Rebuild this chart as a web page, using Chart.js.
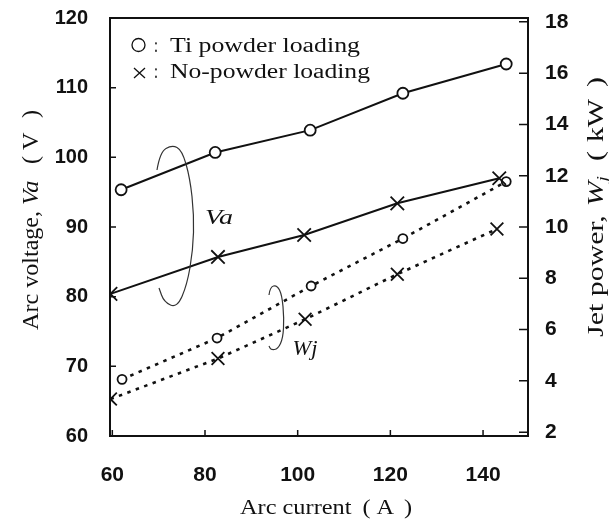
<!DOCTYPE html>
<html>
<head>
<meta charset="utf-8">
<script src="https://cdn.jsdelivr.net/npm/chart.js@4.4.0/dist/chart.umd.min.js"></script>
<style>
  html, body { margin: 0; padding: 0; background: #fff; }
  #grafico { display: block; }
</style>
</head>
<body>
<canvas id="grafico" width="609" height="527"></canvas>
<script>
// corrente do arco (A) e tensão (V) / potência do jato (kW)
const correnteTiVa = [61.9, 82.2, 102.7, 122.7, 145.0];
const tensaoTi = [95.35, 100.7, 103.9, 109.2, 113.4];
const correnteSemVa = [59.6, 82.8, 101.4, 121.5, 143.5];
const tensaoSem = [80.4, 85.7, 88.85, 93.4, 97.0];

const correnteTiWj = [62.1, 82.6, 102.9, 122.7, 145.0];
const potenciaTi = [4.06, 5.67, 7.70, 9.55, 11.77];
const correnteSemWj = [59.6, 82.8, 101.6, 121.5, 143.0];
const potenciaSem = [3.29, 4.87, 6.40, 8.16, 9.92];

const ticksCorrente = [60, 80, 100, 120, 140];
const ticksTensao = [60, 70, 80, 90, 100, 110, 120];
const ticksPotencia = [2, 4, 6, 8, 10, 12, 14, 16, 18];

const SERIF = "'Liberation Serif', 'Times New Roman', serif";
const SANS = "'Liberation Sans', Arial, sans-serif";

function pares(xs, ys) {
  return xs.map((x, i) => ({ x, y: ys[i] }));
}

function fixarTicks(lista) {
  return scale => {
    scale.ticks = lista.map(v => ({ value: v }));
  };
}

function semFolga(scale) {
  scale.paddingTop = 0;
  scale.paddingBottom = 0;
  scale.paddingLeft = 0;
  scale.paddingRight = 0;
}

// texto em partes (normal / itálico / índice), esticado até um comprimento
function textoComposto(ctx, partes, cx, cy, angulo, comprimento, escalaAltura) {
  let total = 0;
  partes.forEach(p => {
    ctx.font = p.font;
    total += ctx.measureText(p.t).width + (p.gap || 0);
  });
  ctx.save();
  ctx.translate(cx, cy);
  ctx.rotate(angulo);
  ctx.scale(comprimento / total, escalaAltura || 1);
  ctx.fillStyle = "#111";
  ctx.textBaseline = "alphabetic";
  ctx.textAlign = "left";
  let x = -total / 2;
  partes.forEach(p => {
    ctx.font = p.font;
    ctx.fillText(p.t, x, p.dy || 0);
    x += ctx.measureText(p.t).width + (p.gap || 0);
  });
  ctx.restore();
}

function curva(ctx, pts) {
  ctx.beginPath();
  ctx.moveTo(pts[0][0], pts[0][1]);
  for (let i = 1; i < pts.length - 1; i++) {
    const mx = (pts[i][0] + pts[i + 1][0]) / 2;
    const my = (pts[i][1] + pts[i + 1][1]) / 2;
    ctx.quadraticCurveTo(pts[i][0], pts[i][1], mx, my);
  }
  const ult = pts[pts.length - 1];
  ctx.lineTo(ult[0], ult[1]);
  ctx.stroke();
}

const decoracao = {
  id: "decoracao",
  afterDraw(chart) {
    const ctx = chart.ctx;
    const area = chart.chartArea;
    const sx = chart.scales.x;
    const sy = chart.scales.y;
    const sy1 = chart.scales.y1;

    ctx.save();
    ctx.strokeStyle = "#111";
    ctx.lineWidth = 2;
    ctx.strokeRect(area.left, area.top, area.right - area.left, area.bottom - area.top);

    // marcas para dentro
    ctx.lineWidth = 1.5;
    ctx.beginPath();
    ticksTensao.forEach(v => {
      const y = sy.getPixelForValue(v);
      ctx.moveTo(area.left, y);
      ctx.lineTo(area.left + 6, y);
    });
    ticksPotencia.forEach(v => {
      const y = sy1.getPixelForValue(v);
      ctx.moveTo(area.right, y);
      ctx.lineTo(area.right - 9, y);
    });
    ticksCorrente.forEach(v => {
      const x = sx.getPixelForValue(v);
      ctx.moveTo(x, area.bottom);
      ctx.lineTo(x, area.bottom - 6);
    });
    ctx.stroke();

    // legenda
    ctx.lineWidth = 1.3;
    ctx.beginPath();
    ctx.arc(138.5, 45, 6.5, 0, Math.PI * 2);
    ctx.stroke();
    ctx.beginPath();
    ctx.moveTo(134, 68); ctx.lineTo(145, 78);
    ctx.moveTo(145, 68); ctx.lineTo(134, 78);
    ctx.stroke();
    textoComposto(ctx, [{ t: ":", font: "20px " + SERIF }], 156, 52, 0, 4);
    textoComposto(ctx, [{ t: ":", font: "20px " + SERIF }], 156, 78, 0, 4);
    textoComposto(ctx, [{ t: "Ti powder loading", font: "20px " + SERIF }], 265, 52, 0, 190);
    textoComposto(ctx, [{ t: "No-powder loading", font: "20px " + SERIF }], 270, 78, 0, 200);

    // laços desenhados à mão
    ctx.lineWidth = 1.2;
    ctx.strokeStyle = "#333";
    curva(ctx, [[157, 170], [160, 152], [172, 145], [182, 150], [190, 178], [194, 215],
      [193, 250], [187, 285], [177, 308], [164, 302], [159, 288]]);
    curva(ctx, [[269, 295], [270, 287], [277, 285], [282, 295], [284, 318],
      [283, 338], [278, 349], [271, 350], [269, 346]]);

    textoComposto(ctx, [{ t: "Va", font: "italic 20px " + SERIF }], 219, 224, 0, 28);
    textoComposto(ctx, [{ t: "Wj", font: "italic 20px " + SERIF }], 305, 355, 0, 25);

    // títulos dos eixos
    textoComposto(ctx, [
      { t: "Arc voltage,", font: "20px " + SERIF, gap: 5 },
      { t: "Va", font: "italic 20px " + SERIF, gap: 14 },
      { t: "(", font: "20px " + SERIF, gap: 5 },
      { t: "V", font: "20px " + SERIF, gap: 12 },
      { t: ")", font: "20px " + SERIF }
    ], 38, 220, -Math.PI / 2, 220, 1.12);

    textoComposto(ctx, [
      { t: "Jet power,", font: "20px " + SERIF, gap: 6 },
      { t: "W", font: "italic 20px " + SERIF },
      { t: "j", font: "italic 13px " + SERIF, dy: 4, gap: 10 },
      { t: "(", font: "20px " + SERIF, gap: 6 },
      { t: "kW", font: "20px " + SERIF, gap: 8 },
      { t: ")", font: "20px " + SERIF }
    ], 603, 207, -Math.PI / 2, 260, 1.12);

    textoComposto(ctx, [
      { t: "Arc current", font: "20px " + SERIF, gap: 9 },
      { t: "(", font: "20px " + SERIF, gap: 5 },
      { t: "A", font: "20px " + SERIF, gap: 8 },
      { t: ")", font: "20px " + SERIF }
    ], 326, 514, 0, 172);

    ctx.restore();
  }
};

const fonteTicksEsq = { family: SANS, size: 20, weight: "bold" };
const fonteTicksX = { family: SANS, size: 21, weight: "bold" };
const fonteTicksDir = { family: SANS, size: 21, weight: "bold" };

const canvas = document.getElementById("grafico");

new Chart(canvas, {
  type: "line",
  data: {
    datasets: [
      {
        label: "Ti powder loading, Va",
        data: pares(correnteTiVa, tensaoTi),
        yAxisID: "y",
        borderColor: "#111",
        borderWidth: 2,
        pointStyle: "circle",
        pointRadius: 5.5,
        pointBorderWidth: 1.8,
        pointBorderColor: "#111",
        pointBackgroundColor: "#fff"
      },
      {
        label: "No-powder loading, Va",
        data: pares(correnteSemVa, tensaoSem),
        yAxisID: "y",
        borderColor: "#111",
        borderWidth: 2,
        pointStyle: "crossRot",
        pointRadius: 9.5,
        pointBorderWidth: 1.8,
        pointBorderColor: "#111"
      },
      {
        label: "Ti powder loading, Wj",
        data: pares(correnteTiWj, potenciaTi),
        yAxisID: "y1",
        borderColor: "#111",
        borderWidth: 2.6,
        borderDash: [3.5, 5.5],
        pointStyle: "circle",
        pointRadius: 4.5,
        pointBorderWidth: 1.8,
        pointBorderColor: "#111",
        pointBackgroundColor: "#fff"
      },
      {
        label: "No-powder loading, Wj",
        data: pares(correnteSemWj, potenciaSem),
        yAxisID: "y1",
        borderColor: "#111",
        borderWidth: 2.6,
        borderDash: [3.5, 5.5],
        pointStyle: "crossRot",
        pointRadius: 9,
        pointBorderWidth: 1.8,
        pointBorderColor: "#111"
      }
    ]
  },
  options: {
    responsive: false,
    animation: false,
    layout: { padding: { top: 18, left: 0, right: 0, bottom: 0 } },
    plugins: {
      legend: { display: false },
      tooltip: { enabled: false }
    },
    scales: {
      x: {
        type: "linear",
        min: 59.5,
        max: 149.7,
        afterBuildTicks: fixarTicks(ticksCorrente),
        afterFit: scale => { scale.height = 91; semFolga(scale); },
        grid: { display: false, drawTicks: false },
        border: { display: false },
        ticks: { font: fonteTicksX, color: "#111", padding: 27, maxRotation: 0 }
      },
      y: {
        position: "left",
        min: 60,
        max: 120,
        afterBuildTicks: fixarTicks(ticksTensao),
        afterFit: scale => { scale.width = 110; semFolga(scale); },
        grid: { display: false, drawTicks: false },
        border: { display: false },
        ticks: { font: fonteTicksEsq, color: "#111", padding: 22 }
      },
      y1: {
        position: "right",
        min: 1.85,
        max: 18.15,
        afterBuildTicks: fixarTicks(ticksPotencia),
        afterFit: scale => { scale.width = 81; semFolga(scale); },
        grid: { display: false, drawTicks: false },
        border: { display: false },
        ticks: { font: fonteTicksDir, color: "#111", padding: 17 }
      }
    }
  },
  plugins: [decoracao]
});
</script>
</body>
</html>
